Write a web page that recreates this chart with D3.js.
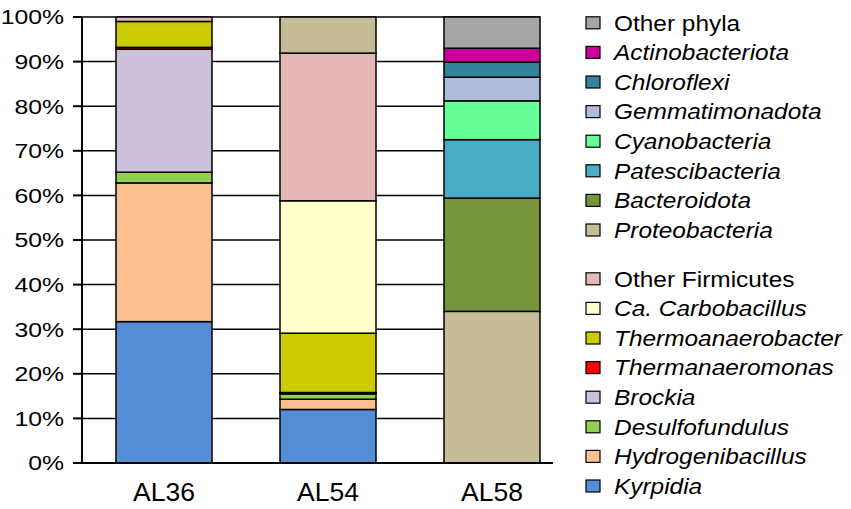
<!DOCTYPE html>
<html lang="en">
<head>
<meta charset="UTF-8">
<title>Community composition</title>
<script src="https://cdn.jsdelivr.net/npm/d3@7"></script>
<style>
	body { margin: 0; background: #fff; }
	text { font-family: "Liberation Sans", Arial, sans-serif; fill: #000; }
</style>
</head>
<body>
<svg id="chart" width="851" height="509"></svg>
<script>

// samples on the x axis
const samples = ['AL36', 'AL54', 'AL58'];

// relative abundance (%) per taxon, one value per sample, bottom of stack first
const kyrpidia          = [31.7, 12.0, 0];
const hydrogenibacillus = [31.1, 2.3, 0];
const desulfofundulus   = [2.4, 1.2, 0];
const brockia           = [27.6, 0.2, 0];
const thermanaeromonas  = [0.4, 0.1, 0];
const thermoanaerobacter= [5.8, 13.3, 0];
const carbobacillus     = [0, 29.7, 0];
const otherFirmicutes   = [1.0, 33.1, 0];
const proteobacteria    = [0, 8.1, 34.0];
const bacteroidota      = [0, 0, 25.4];
const patescibacteria   = [0, 0, 13.1];
const cyanobacteria     = [0, 0, 8.7];
const gemmatimonadota   = [0, 0, 5.3];
const chloroflexi       = [0, 0, 3.4];
const actinobacteriota  = [0, 0, 3.1];
const otherPhyla        = [0, 0, 7.0];

const yTicks = [0, 10, 20, 30, 40, 50, 60, 70, 80, 90, 100];

const taxa = [
	{name: 'Kyrpidia', values: kyrpidia, color: '#558ed5', italic: true},
	{name: 'Hydrogenibacillus', values: hydrogenibacillus, color: '#fac090', italic: true},
	{name: 'Desulfofundulus', values: desulfofundulus, color: '#92d050', italic: true},
	{name: 'Brockia', values: brockia, color: '#ccc1da', italic: true},
	{name: 'Thermanaeromonas', values: thermanaeromonas, color: '#ff0000', italic: true},
	{name: 'Thermoanaerobacter', values: thermoanaerobacter, color: '#cccc00', italic: true},
	{name: 'Ca. Carbobacillus', values: carbobacillus, color: '#ffffcc', italic: true},
	{name: 'Other Firmicutes', values: otherFirmicutes, color: '#e6b9b8', italic: false},
	{name: 'Proteobacteria', values: proteobacteria, color: '#c4bd97', italic: true},
	{name: 'Bacteroidota', values: bacteroidota, color: '#77933c', italic: true},
	{name: 'Patescibacteria', values: patescibacteria, color: '#4bacc6', italic: true},
	{name: 'Cyanobacteria', values: cyanobacteria, color: '#66ff99', italic: true},
	{name: 'Gemmatimonadota', values: gemmatimonadota, color: '#b0bcdc', italic: true},
	{name: 'Chloroflexi', values: chloroflexi, color: '#31849b', italic: true},
	{name: 'Actinobacteriota', values: actinobacteriota, color: '#cc0099', italic: true},
	{name: 'Other phyla', values: otherPhyla, color: '#a6a6a6', italic: false}
];

const svg = d3.select('#chart');

const y = d3.scaleLinear().domain([0, 100]).range([463, 17]);
const x = d3.scaleBand().domain(samples).range([82, 574])
	.paddingInner(0.4146).paddingOuter(0.2073);

// text in the figure is a little wider than the font, stretch it
function stretched(sel, px, py, str, size, sx, anchor, italic){
	sel.append('g')
		.attr('transform', `translate(${px},${py}) scale(${sx},1)`)
		.append('text')
		.attr('font-size', size)
		.attr('text-anchor', anchor)
		.attr('font-style', italic ? 'italic' : 'normal')
		.attr('dy', '0.35em')
		.text(str);
}

const gridRight = x(samples[samples.length-1]) + x.bandwidth();

// gridlines
svg.append('g').selectAll('line').data(yTicks.slice(1)).join('line')
	.attr('x1', 82).attr('x2', gridRight)
	.attr('y1', d => y(d)).attr('y2', d => y(d))
	.attr('stroke', '#000').attr('stroke-width', 1.5);

// stacked bars
const rows = samples.map((s, i) => {
	const r = {sample: s};
	taxa.forEach(t => r[t.name] = t.values[i]);
	return r;
});
const stack = d3.stack().keys(taxa.map(t => t.name))(rows);

svg.append('g').selectAll('g').data(stack).join('g')
	.attr('fill', (d, i) => taxa[i].color)
	.selectAll('rect').data(d => d.filter(p => p[1] - p[0] > 0)).join('rect')
	.attr('x', d => x(d.data.sample))
	.attr('width', x.bandwidth())
	.attr('y', d => y(d[1]))
	.attr('height', d => y(d[0]) - y(d[1]))
	.attr('stroke', '#000').attr('stroke-width', 1.5);

// y axis
const yAxis = svg.append('g');
yAxis.append('line').attr('x1', 82).attr('x2', 82).attr('y1', y(100)).attr('y2', y(0))
	.attr('stroke', '#000').attr('stroke-width', 2);
yAxis.selectAll('line.tick').data(yTicks).join('line').attr('class', 'tick')
	.attr('x1', 73).attr('x2', 82)
	.attr('y1', d => y(d)).attr('y2', d => y(d))
	.attr('stroke', '#000').attr('stroke-width', 2);
yTicks.forEach(t => stretched(yAxis, 64, y(t), t + '%', 21, 1.18, 'end', false));

// x axis
svg.append('line').attr('x1', 82).attr('x2', 553).attr('y1', y(0)).attr('y2', y(0))
	.attr('stroke', '#000').attr('stroke-width', 2);
samples.forEach(s => stretched(svg, x(s) + x.bandwidth()/2, 492, s, 25, 1.06, 'middle', false));

// legend, two groups
const phylaGroup = taxa.slice(8).reverse();
const firmGroup = taxa.slice(0, 8).reverse();
const step = 29.6;

function legendGroup(items, top){
	const g = svg.append('g');
	items.forEach((t, i) => {
		const cy = top + i * step;
		g.append('rect').attr('x', 586).attr('y', cy - 6).attr('width', 14).attr('height', 12)
			.attr('fill', t.color).attr('stroke', '#000').attr('stroke-width', 1.2);
		stretched(g, 614, cy, t.name, 22, 1.11, 'start', t.italic);
	});
}
legendGroup(phylaGroup, 22.8);
legendGroup(firmGroup, 278.8);

</script>
</body>
</html>
